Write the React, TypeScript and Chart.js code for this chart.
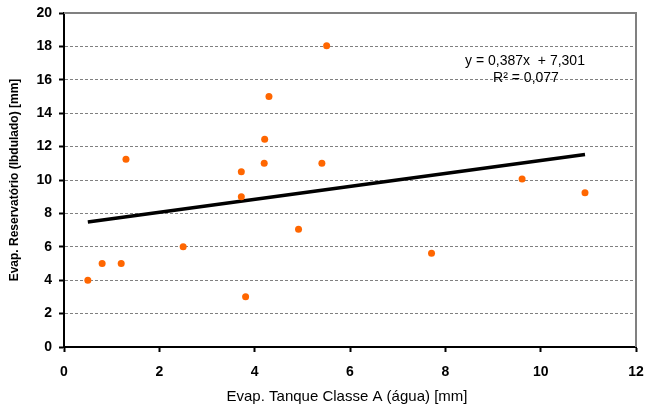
import React, { useEffect, useRef } from 'react';
import { Chart, registerables } from 'chart.js';

Chart.register(...registerables);

const tanqueX = [0.5, 0.8, 1.2, 1.3, 2.5, 3.72, 3.72, 3.81, 4.21, 4.2, 4.3, 4.92, 5.41, 5.51, 7.71, 9.61, 10.93];
const reservY = [4.0, 5.0, 5.0, 11.24, 6.0, 10.5, 9.0, 3.01, 12.44, 11.0, 15.0, 7.05, 11.0, 18.04, 5.61, 10.06, 9.24];
const trendX = [0.5, 10.93];
const trendY = [7.49, 11.53];
const equationLines = ['y = 0,387x  + 7,301', 'R² = 0,077'];
const xTitle = 'Evap. Tanque Classe A (água) [mm]';
const yTitle = 'Evap. Reservatório (Ibdulado) [mm]';

const FONT = '"Liberation Sans", Arial, sans-serif';

export default function App() {
  const ref = useRef<HTMLCanvasElement | null>(null);

  useEffect(() => {
    if (!ref.current) return;
    const textPlugin = {
      id: 'texts',
      afterDraw(chart: any) {
        const ctx = chart.ctx;
        const a = chart.chartArea;
        ctx.save();
        ctx.strokeStyle = '#808080';
        ctx.lineWidth = 2;
        ctx.beginPath();
        ctx.moveTo(a.left, a.top);
        ctx.lineTo(a.right, a.top);
        ctx.lineTo(a.right, a.bottom);
        ctx.stroke();
        ctx.fillStyle = '#000';
        ctx.font = `14px ${FONT}`;
        ctx.textAlign = 'center';
        ctx.textBaseline = 'middle';
        ctx.fillText(equationLines[0], 525, 61);
        ctx.fillText(equationLines[1], 526, 78);
        ctx.font = `15px ${FONT}`;
        ctx.fillText(xTitle, (a.left + a.right) / 2 - 3, 397);
        ctx.font = `bold 12px ${FONT}`;
        ctx.translate(15, (a.top + a.bottom) / 2);
        ctx.rotate(-Math.PI / 2);
        ctx.fillText(yTitle, 0, 0);
        ctx.restore();
      },
    };

    const chart = new Chart(ref.current, {
      type: 'scatter',
      data: {
        datasets: [
          {
            label: 'dados',
            data: tanqueX.map((x, i) => ({ x, y: reservY[i] })),
            backgroundColor: '#FF6600',
            borderWidth: 0,
            pointRadius: 3.5,
          },
          {
            label: 'tendência',
            data: trendX.map((x, i) => ({ x, y: trendY[i] })),
            showLine: true,
            borderColor: '#000',
            borderWidth: 3.5,
            pointRadius: 0,
          },
        ],
      },
      options: {
        animation: false,
        responsive: false,
        layout: { padding: { left: 0, top: 13, right: 10, bottom: 0 } },
        plugins: { legend: { display: false }, tooltip: { enabled: false } },
        scales: {
          x: {
            type: 'linear',
            min: 0,
            max: 12,
            ticks: { stepSize: 2, color: '#000', font: { family: FONT, size: 14, weight: 'bold' }, padding: 12, maxRotation: 0 },
            grid: { drawOnChartArea: false, drawTicks: true, tickLength: 5, tickColor: '#000', tickWidth: 2 },
            border: { color: '#000', width: 2 },
            afterFit: (s: any) => { s.height = 59; s.paddingLeft = 0; s.paddingRight = 0; },
          },
          y: {
            type: 'linear',
            min: 0,
            max: 20,
            ticks: { stepSize: 2, color: '#000', font: { family: FONT, size: 14, weight: 'bold' }, padding: 7 },
            grid: { color: '#808080', lineWidth: 1, tickLength: 5, tickColor: '#000', tickWidth: 2 },
            border: { color: '#000', width: 2, dash: [3, 2] },
            afterFit: (s: any) => { s.width = 64; s.paddingTop = 0; s.paddingBottom = 0; },
          },
        },
      },
      plugins: [textPlugin],
    } as any);
    return () => chart.destroy();
  }, []);

  return (
    <div style={{ position: 'absolute', left: 0, top: 0, width: 646, height: 406, background: '#fff' }}>
      <canvas ref={ref} width={646} height={406} />
    </div>
  );
}
